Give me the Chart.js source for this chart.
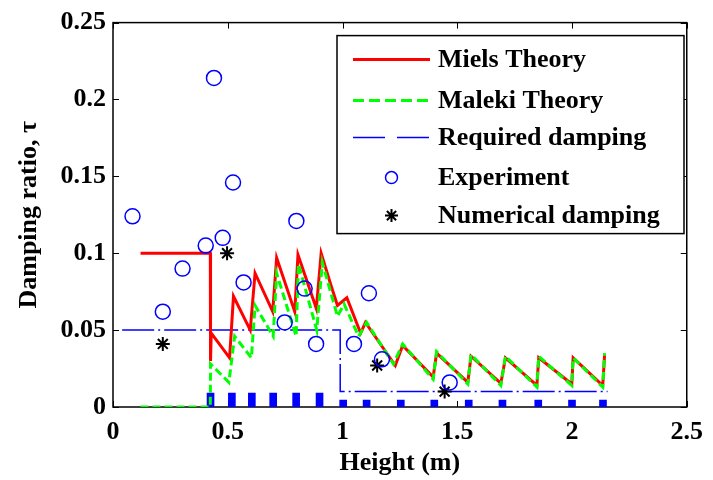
<!DOCTYPE html>
<html><head><meta charset="utf-8">
<script src="https://cdn.jsdelivr.net/npm/chart.js@4"></script>
<style>html,body{margin:0;padding:0;background:#fff;} #wrap{width:713px;height:480px;}</style>
</head><body><div id="wrap"><canvas id="c" width="713" height="480"></canvas></div>
<script>
// ---------- data ----------
const xTickLabels = ['0', '0.5', '1', '1.5', '2', '2.5'];
const yTickLabels = ['0', '0.05', '0.1', '0.15', '0.2', '0.25'];
const xTitle = 'Height (m)';
const yTitle = 'Damping ratio, \u03C4';

const mielsLabel = 'Miels Theory';
const mielsX = [0.12, 0.424, 0.425, 0.428, 0.508, 0.525, 0.598, 0.619, 0.696, 0.713, 0.792, 0.806, 0.886, 0.907, 0.950, 0.978, 1.019, 1.079, 1.100, 1.230, 1.262, 1.395, 1.410, 1.546, 1.560, 1.690, 1.710, 1.847, 1.855, 1.999, 2.005, 2.134, 2.142];
const mielsY = [0.100, 0.100, 0.030, 0.048, 0.032, 0.072, 0.050, 0.087, 0.062, 0.097, 0.062, 0.099, 0.064, 0.100, 0.079, 0.066, 0.071, 0.048, 0.055, 0.027, 0.040, 0.0195, 0.035, 0.016, 0.033, 0.0154, 0.032, 0.014, 0.032, 0.015, 0.032, 0.014, 0.034];

const malekiLabel = 'Maleki Theory';
const malekiX = [0.12, 0.424, 0.425, 0.505, 0.530, 0.603, 0.619, 0.698, 0.713, 0.798, 0.808, 0.888, 0.912, 0.978, 1.007, 1.070, 1.105, 1.222, 1.262, 1.395, 1.410, 1.546, 1.560, 1.690, 1.710, 1.847, 1.855, 1.999, 2.005, 2.134, 2.142];
const malekiY = [0, 0, 0.028, 0.016, 0.046, 0.032, 0.066, 0.046, 0.087, 0.046, 0.093, 0.050, 0.094, 0.059, 0.067, 0.046, 0.055, 0.028, 0.041, 0.018, 0.036, 0.015, 0.034, 0.014, 0.033, 0.013, 0.033, 0.014, 0.032, 0.013, 0.035];

const requiredLabel = 'Required damping';
const requiredX = [0.04, 0.99, 0.99, 2.155];
const requiredY = [0.05, 0.05, 0.01, 0.01];

const experimentLabel = 'Experiment';
const experimentX = [0.085, 0.217, 0.303, 0.404, 0.440, 0.478, 0.523, 0.569, 0.748, 0.799, 0.835, 0.885, 1.050, 1.115, 1.172, 1.467];
const experimentY = [0.124, 0.062, 0.090, 0.105, 0.214, 0.110, 0.146, 0.081, 0.055, 0.121, 0.077, 0.041, 0.041, 0.074, 0.031, 0.016];

const numericalLabel = 'Numerical damping';
const numericalX = [0.217, 0.497, 1.151, 1.445];
const numericalY = [0.041, 0.100, 0.027, 0.010];

const markX = [0.425, 0.518, 0.605, 0.698, 0.798, 0.900, 1.003, 1.105, 1.254, 1.400, 1.550, 1.697, 1.853, 2.000, 2.135];
const markY = [0.009, 0.009, 0.009, 0.009, 0.009, 0.009, 0.0045, 0.0045, 0.0045, 0.0045, 0.0045, 0.0045, 0.0045, 0.0045, 0.0045];

// ---------- helpers ----------
const pts = (xs, ys) => xs.map((x, i) => ({ x: x, y: ys[i] }));
const FAMILY = '"Liberation Serif","Times New Roman",serif';
const font = { family: FAMILY, size: 26, weight: 'bold' };

const framePlugin = {
  id: 'frame',
  beforeDatasetsDraw(chart) {
    const { ctx, chartArea: a, scales } = chart;
    const L = 6;
    ctx.save();
    ctx.strokeStyle = '#000';
    ctx.lineWidth = 1.5;
    ctx.strokeRect(a.left, a.top, a.right - a.left, a.bottom - a.top);
    ctx.lineWidth = 1;
    ctx.beginPath();
    scales.x.ticks.forEach(t => {
      const px = Math.round(scales.x.getPixelForValue(t.value)) + 0.5;
      ctx.moveTo(px, a.bottom); ctx.lineTo(px, a.bottom - L);
      ctx.moveTo(px, a.top); ctx.lineTo(px, a.top + L);
    });
    scales.y.ticks.forEach(t => {
      const py = Math.round(scales.y.getPixelForValue(t.value)) + 0.5;
      ctx.moveTo(a.left, py); ctx.lineTo(a.left + L, py);
      ctx.moveTo(a.right, py); ctx.lineTo(a.right - L, py);
    });
    ctx.stroke();
    ctx.restore();
  }
};

const legendPlugin = {
  id: 'boxLegend',
  afterDatasetsDraw(chart) {
    const { ctx, chartArea: a } = chart;
    const items = chart.data.datasets.filter(d => d.legendRow !== undefined).sort((p, q) => p.legendRow - q.legendRow);
    const bx = a.left + 224, by = a.top + 13, bw = 347, bh = 198;
    ctx.save();
    ctx.fillStyle = '#fff';
    ctx.fillRect(bx, by, bw, bh);
    ctx.strokeStyle = '#000';
    ctx.lineWidth = 1.5;
    ctx.strokeRect(bx, by, bw, bh);
    const rowY = [24, 65, 102, 142, 180];
    items.forEach((d, i) => {
      const y = by + rowY[i];
      const x0 = bx + 16, x1 = bx + 93;
      if (d.type === 'line') {
        ctx.save();
        ctx.strokeStyle = d.borderColor;
        ctx.lineWidth = d.borderWidth;
        ctx.setLineDash(d.legendDash || d.borderDash || []);
        ctx.beginPath(); ctx.moveTo(x0, y); ctx.lineTo(x1, y); ctx.stroke();
        ctx.restore();
      } else {
        ctx.save();
        ctx.strokeStyle = d.borderColor;
        ctx.fillStyle = 'rgba(0,0,0,0)';
        ctx.lineWidth = d.borderWidth;
        Chart.helpers.drawPoint(ctx, { pointStyle: d.pointStyle, radius: d.legendRadius, borderWidth: d.borderWidth, rotation: 0 }, (x0 + x1) / 2, y);
        ctx.restore();
      }
      ctx.fillStyle = '#000';
      ctx.font = 'bold 26px ' + FAMILY;
      ctx.textBaseline = 'middle';
      ctx.textAlign = 'left';
      ctx.fillText(d.label, bx + 101, y + 1);
    });
    ctx.restore();
  }
};

new Chart(document.getElementById('c'), {
  type: 'scatter',
  data: {
    datasets: [
      { type: 'scatter', label: experimentLabel, legendRow: 3, data: pts(experimentX, experimentY),
        pointStyle: 'circle', pointRadius: 7.5, legendRadius: 6, borderColor: '#0000ff', backgroundColor: 'rgba(0,0,0,0)', borderWidth: 1.5, order: 0 },
      { type: 'scatter', label: numericalLabel, legendRow: 4, data: pts(numericalX, numericalY),
        pointStyle: 'star', pointRadius: 7, legendRadius: 6.5, borderColor: '#000', backgroundColor: '#000', borderWidth: 2, order: 1 },
      { type: 'line', label: malekiLabel, legendRow: 1, data: pts(malekiX, malekiY),
        borderColor: '#00ff00', borderWidth: 3, borderDash: [8, 4], legendDash: [11, 5], pointRadius: 0, tension: 0, fill: false, order: 2 },
      { type: 'line', label: mielsLabel, legendRow: 0, data: pts(mielsX, mielsY),
        borderColor: '#ff0000', borderWidth: 3, pointRadius: 0, tension: 0, fill: false, order: 3 },
      { type: 'line', label: requiredLabel, legendRow: 2, data: pts(requiredX, requiredY),
        borderColor: '#0000ff', borderWidth: 1.5, borderDash: [32, 4, 2, 4], legendDash: [32, 12], pointRadius: 0, tension: 0, fill: false, order: 4 },
      { type: 'bar', label: 'marks', data: pts(markX, markY),
        backgroundColor: '#0000ff', borderWidth: 0, barThickness: 7, order: 5 }
    ]
  },
  options: {
    responsive: false,
    devicePixelRatio: 1,
    animation: false,
    layout: { padding: { left: 0, right: 19, top: 22, bottom: 0 } },
    plugins: { legend: { display: false }, tooltip: { enabled: false } },
    scales: {
      x: {
        type: 'linear', min: 0, max: 2.5, offset: false,
        ticks: { stepSize: 0.5, autoSkip: false, maxRotation: 0, padding: 10, color: '#000', font: font,
                 callback: (v, i) => xTickLabels[i] },
        grid: { display: false, drawTicks: false, offset: false },
        border: { display: false },
        title: { display: true, text: xTitle, color: '#000', font: font, padding: { top: 0, bottom: 1 } },
        afterFit(s) { s.height = 73; }
      },
      y: {
        type: 'linear', min: 0, max: 0.25,
        ticks: { stepSize: 0.05, padding: 7, color: '#000', font: font,
                 callback: (v, i) => yTickLabels[i] },
        grid: { display: false, drawTicks: false },
        border: { display: false },
        title: { display: true, text: yTitle, color: '#000', font: font, padding: { top: 14, bottom: 0 } },
        afterFit(s) { s.width = 113; }
      }
    }
  },
  plugins: [framePlugin, legendPlugin]
});
</script></body></html>
